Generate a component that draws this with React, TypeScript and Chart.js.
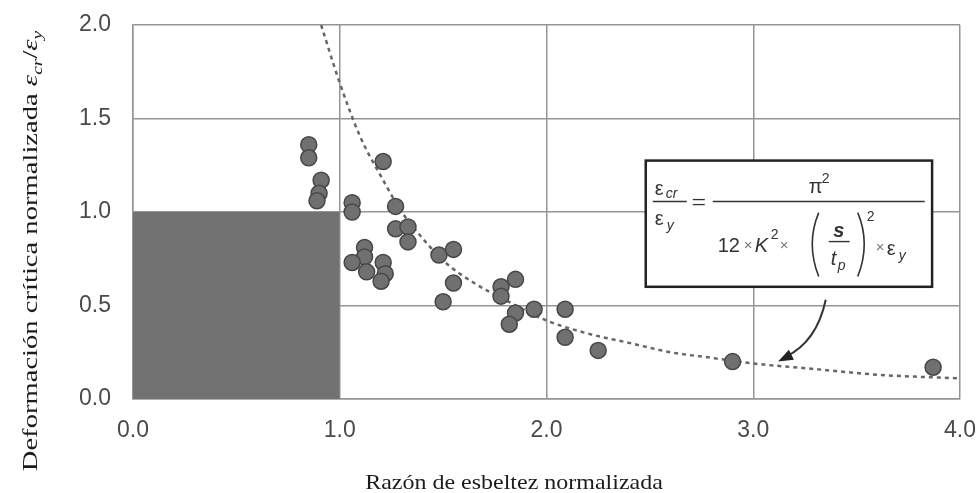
import React, { useEffect, useRef } from "react";
import { Chart, registerables } from "chart.js";

Chart.register(...registerables);

// Ensayos: razón de esbeltez normalizada vs deformación crítica normalizada
const slenderness = [
  0.85, 0.85, 0.91, 0.9, 0.89, 1.06, 1.06, 1.21, 1.27, 1.27, 1.33, 1.33,
  1.12, 1.12, 1.06, 1.13, 1.21, 1.22, 1.2, 1.48, 1.55, 1.55, 1.5, 1.78,
  1.78, 1.85, 1.85, 1.82, 1.94, 2.09, 2.09, 2.25, 2.9, 3.87,
];
const strainRatio = [
  1.36, 1.29, 1.17, 1.1, 1.06, 1.05, 1.0, 1.27, 1.03, 0.91, 0.92, 0.84,
  0.81, 0.76, 0.73, 0.68, 0.73, 0.67, 0.63, 0.77, 0.8, 0.62, 0.52, 0.6,
  0.55, 0.64, 0.46, 0.4, 0.48, 0.48, 0.33, 0.26, 0.2, 0.17,
];

// Curva teórica (línea punteada)
const curveSlenderness = [
  0.91, 1.0, 1.1, 1.2, 1.3, 1.4, 1.5, 1.65, 1.8, 2.0, 2.2, 2.4, 2.6, 2.8,
  3.0, 3.3, 3.6, 4.0,
];
const curveStrain = [
  2.0, 1.69, 1.4, 1.19, 1.0, 0.86, 0.74, 0.62, 0.53, 0.42, 0.35, 0.3, 0.25,
  0.22, 0.19, 0.16, 0.13, 0.11,
];

// Zona sombreada: esbeltez <= 1.0 y deformación <= 1.0
const shadedSlenderness = [0, 1.0];
const shadedStrain = [1.0, 1.0];

const xTicks = [0, 1, 2, 3, 4];
const yTicks = [0, 0.5, 1, 1.5, 2];

const xTitle = "Razón de esbeltez normalizada";
const yTitle = "Deformación crítica normalizada ";

const GRID = "#959595";
const TICK = "#4a4a4a";
const INK = "#1c1c1c";
const MATH = "#333333";

function drawText(
  ctx: CanvasRenderingContext2D,
  s: string,
  x: number,
  y: number,
  font: string,
  align: CanvasTextAlign = "left",
  color = MATH
) {
  ctx.font = font;
  ctx.textAlign = align;
  ctx.textBaseline = "alphabetic";
  ctx.fillStyle = color;
  ctx.fillText(s, x, y);
}

function hline(ctx: CanvasRenderingContext2D, x0: number, x1: number, y: number, w = 1.5) {
  ctx.beginPath();
  ctx.moveTo(x0, y);
  ctx.lineTo(x1, y);
  ctx.lineWidth = w;
  ctx.strokeStyle = MATH;
  ctx.stroke();
}

const annotations = {
  id: "annotations",
  afterDraw(chart: any) {
    const ctx: CanvasRenderingContext2D = chart.ctx;
    const xs = chart.scales.x;
    const ys = chart.scales.y;
    ctx.save();

    // Título del eje x (ligeramente ensanchado)
    ctx.save();
    ctx.translate(514, 489);
    ctx.scale(1.09, 1);
    drawText(ctx, xTitle, 0, 0, "22px 'Liberation Serif'", "center", INK);
    ctx.restore();

    // Título del eje y, con subíndices
    ctx.save();
    ctx.translate(37, 251);
    ctx.rotate(-Math.PI / 2);
    const serif = "22px 'Liberation Serif'";
    const italic = "italic 22px 'Liberation Serif'";
    const sub = "italic 15px 'Liberation Serif'";
    const segs: [string, string, number][] = [
      [yTitle, serif, 0],
      ["ε", italic, 0],
      ["cr", sub, 5],
      ["/", serif, 0],
      ["ε", italic, 0],
      ["y", sub, 5],
    ];
    let total = 0;
    for (const [s, f] of segs) {
      ctx.font = f;
      total += ctx.measureText(s).width;
    }
    ctx.scale(1.3, 1);
    let cx = -total / 2;
    for (const [s, f, dy] of segs) {
      ctx.font = f;
      ctx.fillStyle = INK;
      ctx.textAlign = "left";
      ctx.textBaseline = "alphabetic";
      ctx.fillText(s, cx, dy);
      cx += ctx.measureText(s).width;
    }
    ctx.restore();

    // Recuadro con la ecuación
    const L = xs.getPixelForValue(2.48);
    const R = xs.getPixelForValue(3.865);
    const T = ys.getPixelForValue(1.275);
    const B = ys.getPixelForValue(0.6);
    ctx.fillStyle = "#ffffff";
    ctx.fillRect(L, T, R - L, B - T);
    ctx.lineWidth = 2.5;
    ctx.strokeStyle = "#222222";
    ctx.strokeRect(L, T, R - L, B - T);

    const f20 = "20px 'Liberation Sans'";
    const f20i = "italic 20px 'Liberation Sans'";
    const f14 = "14px 'Liberation Sans'";
    const f14i = "italic 14px 'Liberation Sans'";
    const times = "15px 'Liberation Sans'";

    // ε_cr / ε_y
    drawText(ctx, "ε", L + 9, T + 34, f20);
    drawText(ctx, "cr", L + 20, T + 37, f14i);
    hline(ctx, L + 7, L + 41, T + 41);
    drawText(ctx, "ε", L + 9, T + 64, f20);
    drawText(ctx, "y", L + 21, T + 69, f14i);

    // =
    hline(ctx, L + 47, L + 59, T + 39, 1.3);
    hline(ctx, L + 47, L + 59, T + 44, 1.3);

    // Fracción principal
    hline(ctx, L + 67, L + 279, T + 41);
    drawText(ctx, "π", L + 163, T + 32, f20);
    drawText(ctx, "2", L + 176, T + 22, f14);

    drawText(ctx, "12", L + 72, T + 91, f20);
    drawText(ctx, "×", L + 98, T + 89, times, "left", "#777");
    drawText(ctx, "K", L + 109, T + 91, f20i);
    drawText(ctx, "2", L + 125, T + 78, f14);
    drawText(ctx, "×", L + 134, T + 89, times, "left", "#777");

    // paréntesis grandes
    ctx.lineWidth = 1.6;
    ctx.strokeStyle = MATH;
    ctx.beginPath();
    ctx.moveTo(L + 173, T + 52);
    ctx.quadraticCurveTo(L + 160, T + 83, L + 173, T + 116);
    ctx.stroke();
    ctx.beginPath();
    ctx.moveTo(L + 212, T + 52);
    ctx.quadraticCurveTo(L + 225, T + 83, L + 212, T + 116);
    ctx.stroke();

    drawText(ctx, "s", L + 193, T + 76, "italic bold 20px 'Liberation Sans'", "center");
    hline(ctx, L + 183, L + 204, T + 81, 1.4);
    drawText(ctx, "t", L + 185, T + 104, f20i);
    drawText(ctx, "p", L + 192, T + 109, f14i);
    drawText(ctx, "2", L + 221, T + 60, f14);

    drawText(ctx, "×", L + 230, T + 91, times, "left", "#777");
    drawText(ctx, "ε", L + 241, T + 94, f20);
    drawText(ctx, "y", L + 253, T + 99, f14i);

    // Flecha hacia la curva
    const sx = L + 180;
    const sy = B + 13;
    const ex = xs.getPixelForValue(3.12);
    const ey = ys.getPixelForValue(0.2);
    const qx = sx - 9;
    const qy = sy + 42;
    ctx.beginPath();
    ctx.moveTo(sx, sy);
    ctx.quadraticCurveTo(qx, qy, ex + 8, ey - 5);
    ctx.lineWidth = 2;
    ctx.strokeStyle = "#333";
    ctx.stroke();
    const ang = Math.atan2(ey - qy, ex - qx);
    const hl = 15;
    const hw = 5.5;
    ctx.beginPath();
    ctx.moveTo(ex, ey);
    ctx.lineTo(ex - hl * Math.cos(ang) + hw * Math.sin(ang), ey - hl * Math.sin(ang) - hw * Math.cos(ang));
    ctx.lineTo(ex - hl * Math.cos(ang) - hw * Math.sin(ang), ey - hl * Math.sin(ang) + hw * Math.cos(ang));
    ctx.closePath();
    ctx.fillStyle = "#222";
    ctx.fill();

    ctx.restore();
  },
};

export default function App() {
  const ref = useRef<HTMLCanvasElement>(null);

  useEffect(() => {
    if (!ref.current) return;
    const chart = new Chart(ref.current, {
      type: "scatter",
      data: {
        datasets: [
          {
            type: "scatter",
            label: "Ensayos",
            data: slenderness.map((x, i) => ({ x, y: strainRatio[i] })),
            backgroundColor: "#707070",
            borderColor: "#474747",
            borderWidth: 1.5,
            pointRadius: 8,
            order: 1,
          },
          {
            type: "line",
            label: "Teórica",
            data: curveSlenderness.map((x, i) => ({ x, y: curveStrain[i] })),
            borderColor: "#666666",
            borderWidth: 2.5,
            borderDash: [4, 4],
            pointRadius: 0,
            tension: 0.4,
            cubicInterpolationMode: "monotone",
            fill: false,
            order: 2,
          },
          {
            type: "line",
            label: "Zona",
            data: shadedSlenderness.map((x, i) => ({ x, y: shadedStrain[i] })),
            borderWidth: 0,
            borderColor: "rgba(0,0,0,0)",
            backgroundColor: "#727272",
            pointRadius: 0,
            fill: "origin",
            order: 3,
          },
        ],
      } as any,
      options: {
        animation: false,
        responsive: false,
        devicePixelRatio: 1,
        layout: {
          padding: { top: 25, right: 19, left: 0, bottom: 0 },
        },
        plugins: {
          legend: { display: false },
          tooltip: { enabled: false },
          title: { display: false },
        },
        scales: {
          x: {
            type: "linear",
            min: 0,
            max: 4,
            afterBuildTicks: (s: any) => {
              s.ticks = xTicks.map((v) => ({ value: v }));
            },
            afterFit: (s: any) => {
              s.height = 94;
              s.paddingLeft = 0;
              s.paddingRight = 0;
            },
            ticks: {
              callback: (v: any) => Number(v).toFixed(1),
              font: { family: "'Liberation Sans'", size: 23 },
              color: TICK,
              padding: 18,
              maxRotation: 0,
            },
            grid: { color: GRID, lineWidth: 1.5, drawTicks: false },
            border: { display: true, color: GRID, width: 1.5 },
          },
          y: {
            type: "linear",
            min: 0,
            max: 2,
            afterBuildTicks: (s: any) => {
              s.ticks = yTicks.map((v) => ({ value: v }));
            },
            afterFit: (s: any) => {
              s.width = 133;
              s.paddingTop = 0;
              s.paddingBottom = 0;
            },
            ticks: {
              callback: (v: any) => Number(v).toFixed(1),
              font: { family: "'Liberation Sans'", size: 23 },
              color: TICK,
              padding: 22,
            },
            grid: { color: GRID, lineWidth: 1.5, drawTicks: false },
            border: { display: true, color: GRID, width: 1.5 },
          },
        },
      } as any,
      plugins: [annotations],
    });
    return () => chart.destroy();
  }, []);

  return (
    <div
      style={{
        position: "fixed",
        left: 0,
        top: 0,
        width: 979,
        height: 493,
        background: "#ffffff",
      }}
    >
      <canvas ref={ref} width={979} height={493} style={{ display: "block" }} />
    </div>
  );
}
